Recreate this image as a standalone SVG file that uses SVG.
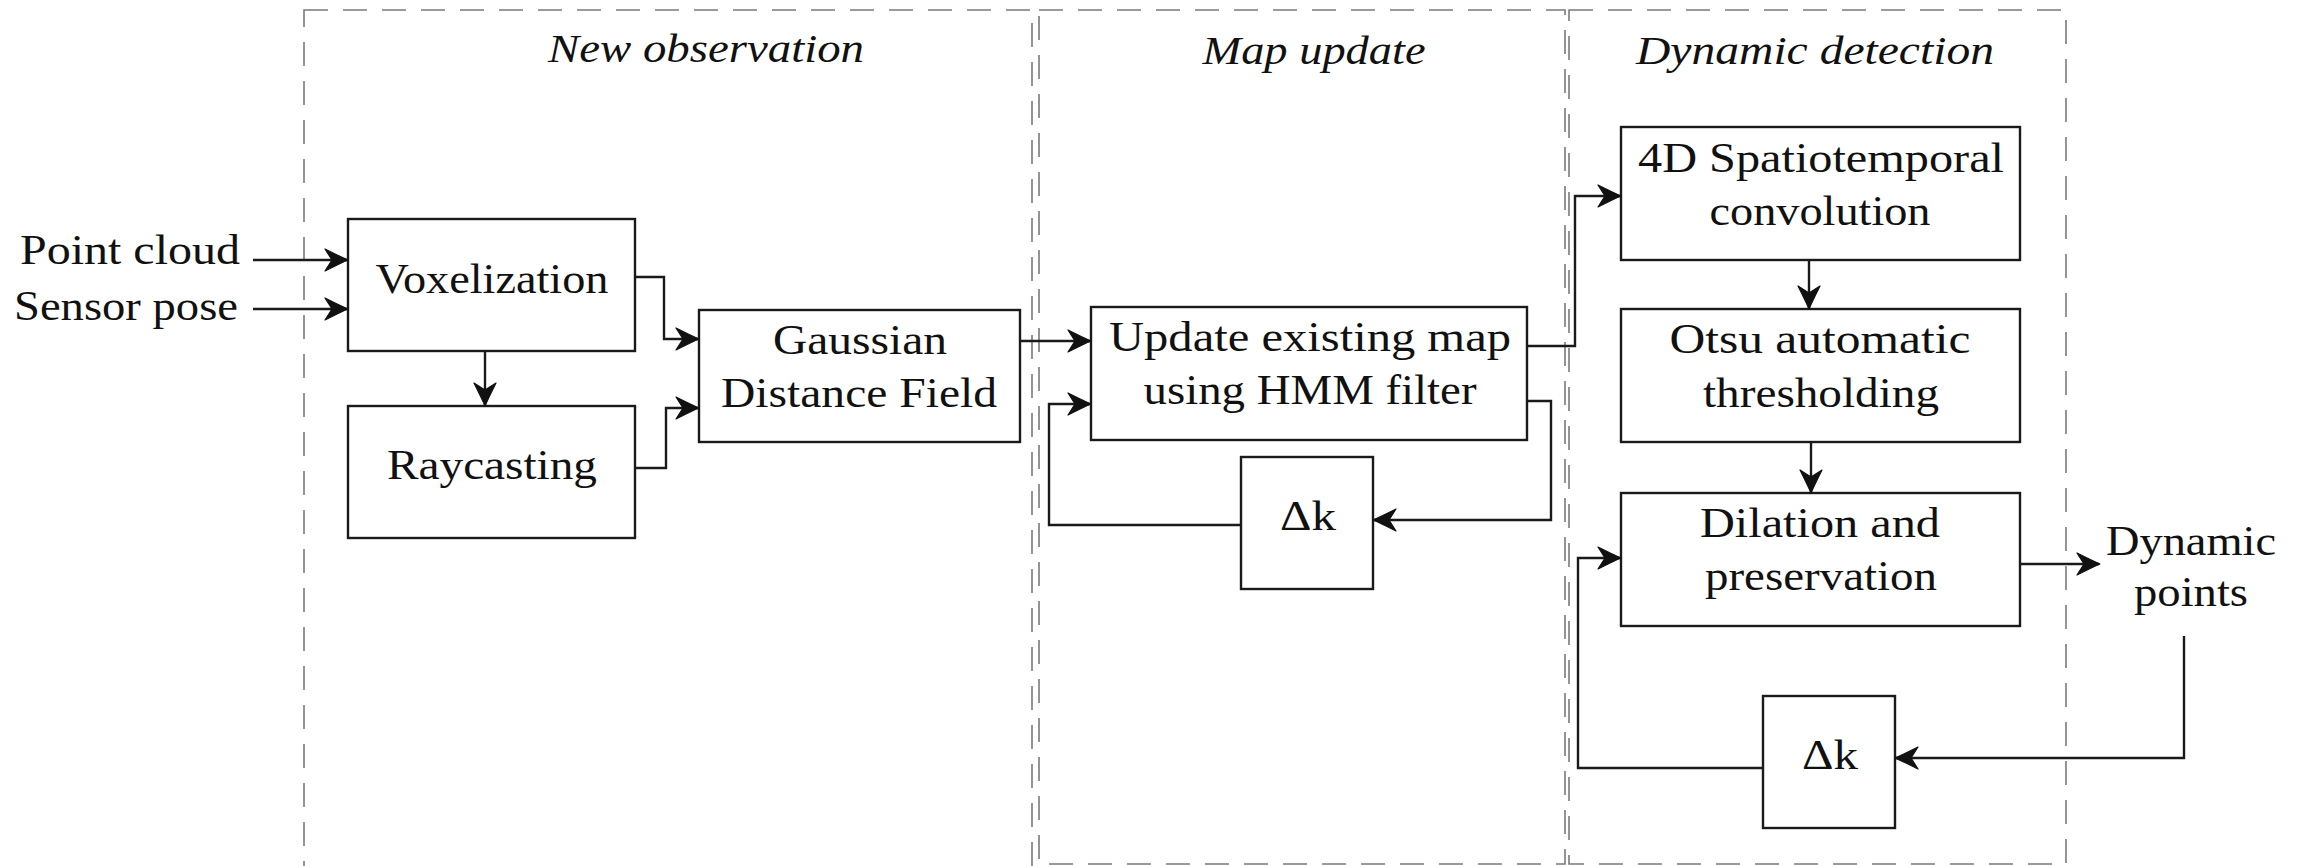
<svg xmlns="http://www.w3.org/2000/svg" width="2302" height="866" viewBox="0 0 2302 866">
<style>
.bg{fill:#ffffff}
.frame{fill:none;stroke:#7a7a7a;stroke-width:1.6;stroke-dasharray:24 15}
.box{fill:#ffffff;stroke:#1a1a1a;stroke-width:2.4}
.t{font-family:'Liberation Serif','Times New Roman','Noto Serif','DejaVu Serif',serif;font-size:42px;fill:#111;text-anchor:middle}
.ti{font-family:'Liberation Serif','Times New Roman','Noto Serif','DejaVu Serif',serif;font-size:39px;font-style:italic;fill:#111;text-anchor:middle}
.ca{fill:none;stroke:#1a1a1a;stroke-width:2.4;marker-end:url(#ah)}
</style>
<defs>
<marker id="ah" viewBox="-1 -1 26 24" refX="23" refY="11" markerWidth="26" markerHeight="24" markerUnits="userSpaceOnUse" orient="auto">
<path d="M24,11 C18,8.5 10,4.5 1,0 L8,11 L1,22 C10,17.5 18,13.5 24,11 Z" fill="#111" stroke="#111" stroke-width="1.2" stroke-linejoin="round"/>
</marker>
</defs>
<rect class="bg" x="0" y="0" width="2302" height="866"/>

<g id="frames">
<rect class="frame" x="304" y="10" width="728" height="860"/>
<rect class="frame" x="1039" y="10" width="526" height="854"/>
<rect class="frame" x="1569" y="10" width="497" height="854"/>
<text class="ti" x="706" y="62" textLength="316" lengthAdjust="spacingAndGlyphs">New observation</text>
<text class="ti" x="1314" y="64" textLength="223" lengthAdjust="spacingAndGlyphs">Map update</text>
<text class="ti" x="1815" y="64" textLength="358" lengthAdjust="spacingAndGlyphs">Dynamic detection</text>
</g>

<g id="inputs">
<text class="t" x="130" y="264" textLength="220" lengthAdjust="spacingAndGlyphs">Point cloud</text>
<text class="t" x="126" y="320" textLength="224" lengthAdjust="spacingAndGlyphs">Sensor pose</text>
</g>

<g id="voxelization">
<rect class="box" x="348" y="219" width="287" height="132"/>
<text class="t" x="492" y="293" textLength="233" lengthAdjust="spacingAndGlyphs">Voxelization</text>
</g>

<g id="raycasting">
<rect class="box" x="348" y="406" width="287" height="132"/>
<text class="t" x="492" y="479" textLength="210" lengthAdjust="spacingAndGlyphs">Raycasting</text>
</g>

<g id="gaussian">
<rect class="box" x="699" y="310" width="321" height="132"/>
<text class="t" x="860" y="354" textLength="174" lengthAdjust="spacingAndGlyphs">Gaussian</text>
<text class="t" x="859" y="407" textLength="276" lengthAdjust="spacingAndGlyphs">Distance Field</text>
</g>

<g id="update">
<rect class="box" x="1091" y="307" width="436" height="133"/>
<text class="t" x="1310" y="351" textLength="402" lengthAdjust="spacingAndGlyphs">Update existing map</text>
<text class="t" x="1310" y="404" textLength="333" lengthAdjust="spacingAndGlyphs">using HMM filter</text>
</g>

<g id="delay1">
<rect class="box" x="1241" y="457" width="132" height="132"/>
<text class="t" x="1308" y="530" textLength="56" lengthAdjust="spacingAndGlyphs">Δk</text>
</g>

<g id="conv4d">
<rect class="box" x="1621" y="127" width="399" height="133"/>
<text class="t" x="1821" y="172" textLength="366" lengthAdjust="spacingAndGlyphs">4D Spatiotemporal</text>
<text class="t" x="1820" y="225" textLength="221" lengthAdjust="spacingAndGlyphs">convolution</text>
</g>

<g id="otsu">
<rect class="box" x="1621" y="309" width="399" height="133"/>
<text class="t" x="1820" y="353" textLength="301" lengthAdjust="spacingAndGlyphs">Otsu automatic</text>
<text class="t" x="1821" y="407" textLength="236" lengthAdjust="spacingAndGlyphs">thresholding</text>
</g>

<g id="dilation">
<rect class="box" x="1621" y="493" width="399" height="133"/>
<text class="t" x="1820" y="537" textLength="240" lengthAdjust="spacingAndGlyphs">Dilation and</text>
<text class="t" x="1821" y="590" textLength="232" lengthAdjust="spacingAndGlyphs">preservation</text>
</g>

<g id="output">
<text class="t" x="2191" y="555" textLength="170" lengthAdjust="spacingAndGlyphs">Dynamic</text>
<text class="t" x="2191" y="606" textLength="114" lengthAdjust="spacingAndGlyphs">points</text>
</g>

<g id="delay2">
<rect class="box" x="1763" y="696" width="132" height="132"/>
<text class="t" x="1830" y="769" textLength="56" lengthAdjust="spacingAndGlyphs">Δk</text>
</g>

<g id="connectors">
<path class="ca" d="M253,260 H347"/>
<path class="ca" d="M253,309 H347"/>
<path class="ca" d="M635,277 H664 V339 H698"/>
<path class="ca" d="M635,468 H666 V408 H698"/>
<path class="ca" d="M485,351 V405"/>
<path class="ca" d="M1020,341 H1090"/>
<path class="ca" d="M1527,346 H1575 V196 H1620"/>
<path class="ca" d="M1527,401 H1551 V520 H1374"/>
<path class="ca" d="M1241,525 H1049 V404 H1090"/>
<path class="ca" d="M1809,260 V308"/>
<path class="ca" d="M1811,442 V492"/>
<path class="ca" d="M2020,564 H2099"/>
<path class="ca" d="M2184,636 V758 H1896"/>
<path class="ca" d="M1763,768 H1578 V558 H1620"/>
</g>
</svg>
